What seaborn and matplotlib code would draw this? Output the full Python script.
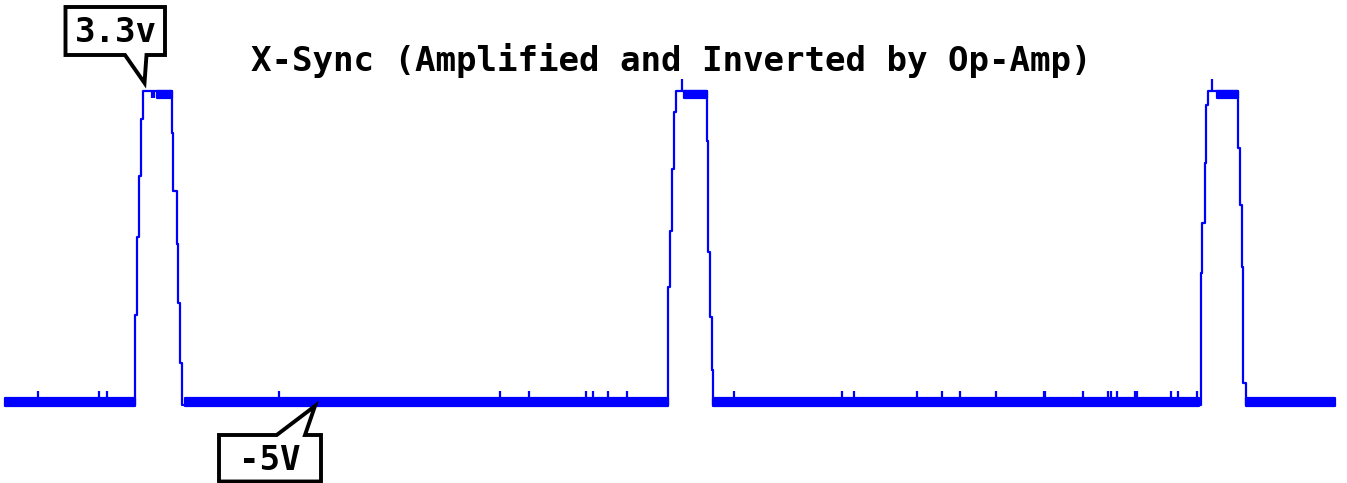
import matplotlib
matplotlib.use("Agg")
import matplotlib.pyplot as plt
import matplotlib.transforms as mtransforms
from matplotlib.patches import Polygon
import seaborn as sns
import pandas as pd

# ---- X-Sync trace (time in sample ticks, voltage in V) ----
trace_t = [5, 135, 136.7, 139.3, 140.7, 142.7, 171.7, 173.3, 176.7, 178.3, 180, 181.7,
           667.7, 670, 672, 674, 676, 706.7, 708.3, 710, 711.7, 713.3,
           1200.7, 1202.3, 1205, 1206, 1208.3, 1238.3, 1240, 1241.7, 1243.3, 1246,
           1335]
trace_v = [-5.0, -2.61, -0.55, 1.07, 2.57, 3.3, 2.20, 0.67, -0.73, -2.29, -3.88, -5.0,
           -1.87, -0.39, 1.25, 2.76, 3.3, 1.99, -0.94, -2.66, -4.06, -5.0,
           -1.50, -0.18, 1.41, 2.94, 3.3, 1.81, 0.30, -1.34, -4.41, -5.0,
           -5.0]

# noise bands where the signal toggles rapidly between two levels
band_start = [5, 185, 713.3, 1246, 157, 684, 1216.7]
band_end = [135, 667.7, 1199, 1335, 171.7, 706.7, 1238.3]
band_low = [-5.02, -5.02, -5.02, -5.02, 3.13, 3.13, 3.13]
band_high = [-4.79, -4.79, -4.79, -4.79, 3.3, 3.3, 3.3]

# short glitches on the low level
glitch_t = [37.7, 98.7, 107.3, 279, 500.3, 529.3, 586, 593.3, 607.7, 627.3,
            734.3, 842, 854, 917, 942, 960, 995.7, 1043.5, 1045, 1083.3,
            1108.3, 1111, 1116.7, 1135, 1136.5, 1170.7, 1177.7, 1197.3]
glitch_base = -4.79
glitch_peak = -4.62

# glitches on the high level (overshoot up, dips down)
high_spike_t = [681.7, 1211.7]
high_spike_peak = 3.63
high_dip_t = [151.7, 154]
high_dip_low = 3.13

HIGH_V = 3.3
title_text = "X-Sync (Amplified and Inverted by Op-Amp)"
high_label = "3.3v"
low_label = "-5V"

W, H = 1347, 483
sns.set_theme(style="white")
plt.rcParams["font.family"] = ["DejaVu Sans Mono"]

fig = plt.figure(figsize=(W / 100, H / 100), dpi=100)
ax = fig.add_axes([0, 0, 1, 1])
ax.set_axis_off()

blue = "#0000ff"
lw = 1.6

df = pd.DataFrame({"t": trace_t, "v": trace_v})
sns.lineplot(data=df, x="t", y="v", ax=ax, color=blue, linewidth=lw,
             drawstyle="steps-post", sort=False, estimator=None)

for s, e, lo, hi in zip(band_start, band_end, band_low, band_high):
    ax.fill_between([s, e], [lo, lo], [hi, hi], color=blue, edgecolor=blue, linewidth=lw)

ax.vlines(glitch_t, glitch_base, glitch_peak, color=blue, linewidth=lw)
ax.vlines(high_spike_t, HIGH_V, high_spike_peak, color=blue, linewidth=lw)
ax.vlines(high_dip_t, high_dip_low, HIGH_V, color=blue, linewidth=lw)

# voltage axis scaled so the trace spans the canvas height
px_per_volt = 37.83
ax.set_xlim(0, W)
ax.set_ylim(HIGH_V - (H - 91.5) / px_per_volt, HIGH_V + 91.5 / px_per_volt)

# pixel coordinates measured from the top-left corner
px = mtransforms.Affine2D().scale(1 / W, -1 / H).translate(0, 1) + fig.transFigure

font = dict(family="DejaVu Sans Mono", fontweight="bold", fontsize=24.6, color="black")

fig.text(671.5, 60, title_text, transform=px, ha="center", va="center", **font)


def callout(points, label, cx, cy):
    ax.add_patch(Polygon(points, closed=True, transform=px, facecolor="white",
                         edgecolor="black", linewidth=2.8, joinstyle="miter", zorder=5))
    fig.text(cx, cy, label, transform=px, ha="center", va="center", zorder=6, **font)


callout([(65.5, 7), (165, 7), (165, 55), (146.5, 55), (144.5, 83), (125, 55), (65.5, 55)],
        high_label, 115.5, 32)
callout([(219, 435), (276.7, 435), (315, 406), (305, 435), (321, 435), (321, 481.5),
         (219, 481.5)], low_label, 270, 461)

fig.savefig("out.png", dpi=100)
